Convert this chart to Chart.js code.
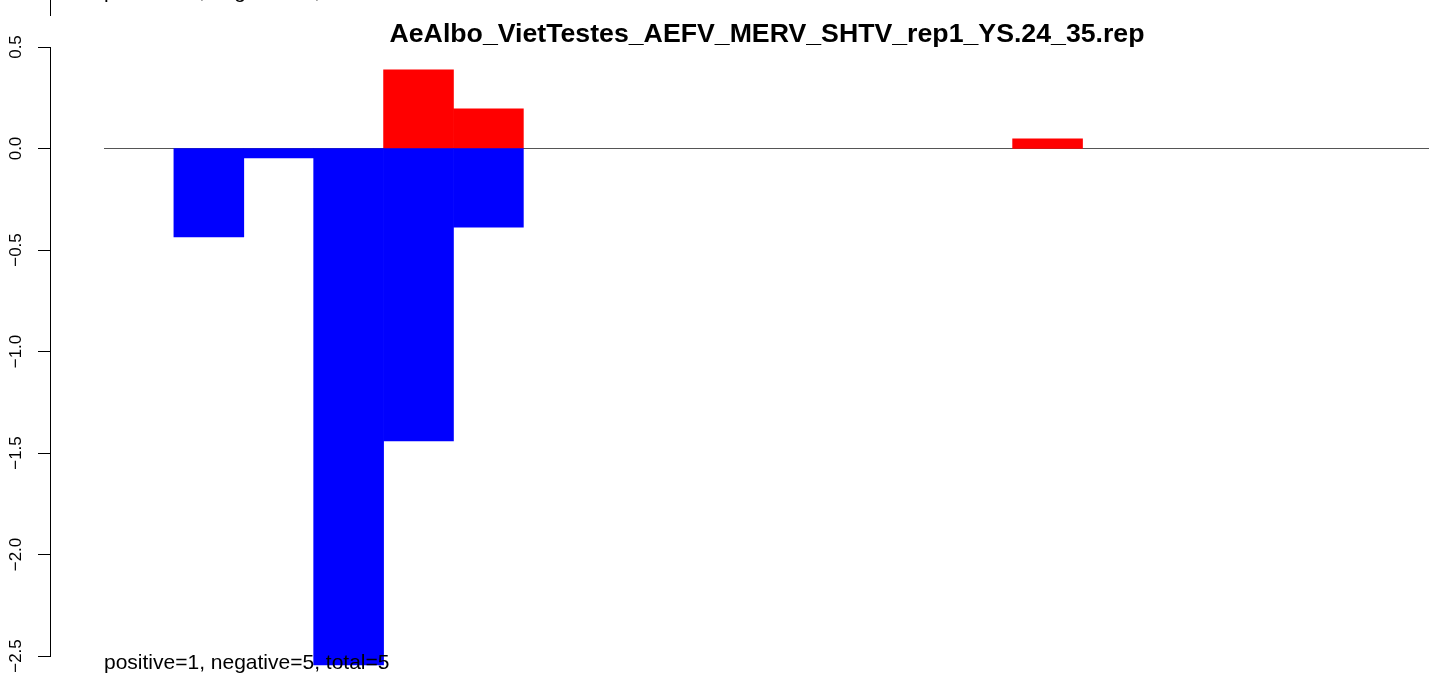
<!DOCTYPE html>
<html lang="en">
<head>
    <meta charset="UTF-8">
    <title>AeAlbo_VietTestes_AEFV_MERV_SHTV_rep1_YS.24_35.rep</title>
    <script src="https://cdn.jsdelivr.net/npm/chart.js"></script>
    <style>
        html, body {
            margin: 0;
            padding: 0;
            background: #ffffff;
            overflow: hidden;
        }
        /* plot region runs a few pixels past the right edge, as in the original */
        .chart-box {
            position: relative;
            width: 1432px;
            height: 673px;
        }
    </style>
</head>
<body>
    <div class="chart-box">
        <canvas id="repChart"></canvas>
    </div>

    <script>
        // Chart data
        const chartTitle = 'AeAlbo_VietTestes_AEFV_MERV_SHTV_rep1_YS.24_35.rep';
        const categories = ['0', '1', '2', '3', '4', '5', '6', '7', '8', '9',
                            '10', '11', '12', '13', '14', '15', '16', '17', '18'];
        const negativeValues = [0, -0.436, -0.047, -2.544, -1.441, -0.387, 0, 0, 0, 0,
                                0, 0, 0, 0, 0, 0, 0, 0, 0];
        const positiveValues = [0, 0, 0, 0, 0.387, 0.195, 0, 0, 0, 0,
                                0, 0, 0, 0.047, 0, 0, 0, 0, 0];
        const yTickValues = [-2.5, -2, -1.5, -1, -0.5, 0, 0.5];
        const yTickLabels = ['\u22122.5', '\u22122.0', '\u22121.5', '\u22121.0', '\u22120.5', '0.0', '0.5'];
        const summaryText = 'positive=1, negative=5, total=5';
        const previousSummaryText = 'positive=0, negative=5, total=5';

        const fontFamily = '"Liberation Sans", Arial, Helvetica, sans-serif';

        // zero-height bars would still show as a thin line, so leave them out
        function dropZeros(values) {
            return values.map(v => (v === 0 ? null : v));
        }

        // R style axis, title and text drawn with the chart's own y scale
        const baseDrawing = {
            id: 'baseDrawing',
            beforeDatasetsDraw(chart) {
                const ctx = chart.ctx;
                const area = chart.chartArea;
                const y0 = chart.scales.y.getPixelForValue(0);
                ctx.save();
                ctx.strokeStyle = '#555555';
                ctx.lineWidth = 1;
                ctx.beginPath();
                ctx.moveTo(area.left, Math.round(y0) + 0.5);
                ctx.lineTo(area.right, Math.round(y0) + 0.5);
                ctx.stroke();
                ctx.restore();
            },
            afterDraw(chart) {
                const ctx = chart.ctx;
                const yScale = chart.scales.y;
                const axisX = 50.5;
                const top = yScale.getPixelForValue(yTickValues[yTickValues.length - 1]);
                const bottom = yScale.getPixelForValue(yTickValues[0]);

                ctx.save();
                ctx.strokeStyle = '#000000';
                ctx.lineWidth = 1;
                ctx.beginPath();
                ctx.moveTo(axisX, Math.round(top));
                ctx.lineTo(axisX, Math.round(bottom) + 1);
                yTickValues.forEach(v => {
                    const py = Math.round(yScale.getPixelForValue(v)) + 0.5;
                    ctx.moveTo(38, py);
                    ctx.lineTo(axisX, py);
                });
                // cut-off axis of the panel above
                ctx.moveTo(axisX, 0);
                ctx.lineTo(axisX, 16);
                ctx.stroke();

                // rotated tick labels
                ctx.fillStyle = '#000000';
                ctx.font = '17px ' + fontFamily;
                ctx.textAlign = 'center';
                ctx.textBaseline = 'middle';
                yTickValues.forEach((v, i) => {
                    const py = yScale.getPixelForValue(v);
                    ctx.save();
                    ctx.translate(16, py);
                    ctx.rotate(-Math.PI / 2);
                    ctx.fillText(yTickLabels[i], 0, 0);
                    ctx.restore();
                });

                // title
                ctx.font = 'bold 26.7px ' + fontFamily;
                ctx.textAlign = 'center';
                ctx.textBaseline = 'alphabetic';
                ctx.fillText(chartTitle, 767, 42);

                // summary text, and the cut-off one from the panel above
                ctx.font = '21px ' + fontFamily;
                ctx.textAlign = 'left';
                ctx.fillText(summaryText, 104, 669);
                ctx.fillText(previousSummaryText, 104, -2);
                ctx.restore();
            }
        };

        function initChart() {
            const ctx = document.getElementById('repChart').getContext('2d');

            new Chart(ctx, {
                type: 'bar',
                data: {
                    labels: categories,
                    datasets: [
                        {
                            label: 'negative',
                            data: dropZeros(negativeValues),
                            backgroundColor: '#0000ff',
                            borderWidth: 0,
                            barPercentage: 1,
                            categoryPercentage: 1
                        },
                        {
                            label: 'positive',
                            data: dropZeros(positiveValues),
                            backgroundColor: '#ff0000',
                            borderWidth: 0,
                            barPercentage: 1,
                            categoryPercentage: 1
                        }
                    ]
                },
                options: {
                    responsive: true,
                    maintainAspectRatio: false,
                    animation: false,
                    layout: {
                        padding: { left: 104, right: 0, top: 0, bottom: 0 }
                    },
                    scales: {
                        x: {
                            display: false,
                            stacked: true,
                            offset: true,
                            grid: { display: false }
                        },
                        y: {
                            display: false,
                            stacked: true,
                            min: -2.5838,
                            max: 0.7315,
                            grid: { display: false }
                        }
                    },
                    plugins: {
                        legend: { display: false },
                        title: { display: false },
                        tooltip: { enabled: false }
                    }
                },
                plugins: [baseDrawing]
            });
        }

        document.addEventListener('DOMContentLoaded', initChart);
    </script>
</body>
</html>
